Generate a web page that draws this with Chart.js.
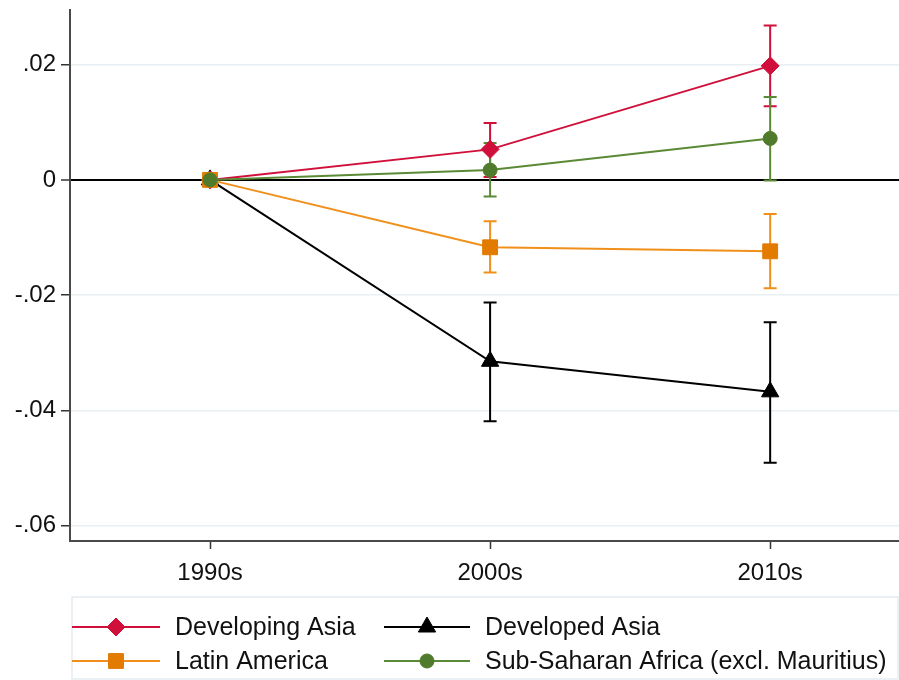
<!DOCTYPE html>
<html>
<head>
<meta charset="utf-8">
<script src="https://cdn.jsdelivr.net/npm/chart.js@4/dist/chart.umd.min.js"></script>
<style>
  html, body { margin: 0; padding: 0; background: #ffffff; }
  #wrap { width: 899px; height: 680px; }
</style>
</head>
<body>
<div id="wrap"><canvas id="c" width="899" height="680"></canvas></div>
<script>
// ---- data ----
const periods = ['1990s', '2000s', '2010s'];
const yTicks = [-0.06, -0.04, -0.02, 0, 0.02];

const developingAsia   = [0, 0.0053, 0.0198];
const developingAsiaLo = [null, 0.0005, 0.0128];
const developingAsiaHi = [null, 0.0099, 0.0268];

const developedAsia   = [0, -0.0315, -0.0368];
const developedAsiaLo = [null, -0.0419, -0.0491];
const developedAsiaHi = [null, -0.0213, -0.0247];

const latinAmerica   = [0, -0.0117, -0.0124];
const latinAmericaLo = [null, -0.0161, -0.0188];
const latinAmericaHi = [null, -0.0072, -0.0059];

const subSaharan   = [0, 0.0017, 0.0072];
const subSaharanLo = [null, -0.0029, -0.0001];
const subSaharanHi = [null, 0.0064, 0.0144];

const FONT = "'Liberation Sans', Arial, sans-serif";

function pts(arr) { return arr.map((v, i) => ({ x: i, y: v })); }

function mkSet(label, vals, lo, hi, color, markColor, style, radius, order) {
  return {
    label: label,
    data: pts(vals),
    lo: lo, hi: hi,
    borderColor: color,
    backgroundColor: markColor,
    borderWidth: 2,
    pointStyle: style,
    pointRadius: radius,
    pointBackgroundColor: markColor,
    pointBorderColor: markColor,
    pointBorderWidth: 1,
    tension: 0,
    order: order,
    errColor: color,
    clip: false
  };
}

const datasets = [
  mkSet('Developing Asia', developingAsia, developingAsiaLo, developingAsiaHi, '#d0103a', '#d0103a', 'rectRot', 9, 2),
  mkSet('Developed Asia', developedAsia, developedAsiaLo, developedAsiaHi, '#000000', '#000000', 'triangle', 10, 3),
  mkSet('Latin America', latinAmerica, latinAmericaLo, latinAmericaHi, '#f0901a', '#e27b00', 'rect', 10.5, 1),
  mkSet('Sub-Saharan Africa (excl. Mauritius)', subSaharan, subSaharanLo, subSaharanHi, '#5a8a35', '#507b2c', 'circle', 7, 0)
];

const errorBars = {
  id: 'errorBars',
  beforeDatasetsDraw(chart) {
    const ctx = chart.ctx;
    const xs = chart.scales.x, ys = chart.scales.y;
    ctx.save();
    const orderDraw = chart.data.datasets.map((d, i) => i).sort((a, b) => chart.data.datasets[b].order - chart.data.datasets[a].order);
    orderDraw.forEach(di => {
      const ds = chart.data.datasets[di];
      ctx.strokeStyle = ds.errColor;
      ctx.lineWidth = 2;
      ds.data.forEach((p, i) => {
        if (ds.lo[i] == null || ds.hi[i] == null) return;
        const px = xs.getPixelForValue(p.x);
        const y1 = ys.getPixelForValue(ds.lo[i]);
        const y2 = ys.getPixelForValue(ds.hi[i]);
        const cap = 6.5;
        ctx.beginPath();
        ctx.moveTo(px, y1); ctx.lineTo(px, y2);
        ctx.moveTo(px - cap, y1); ctx.lineTo(px + cap, y1);
        ctx.moveTo(px - cap, y2); ctx.lineTo(px + cap, y2);
        ctx.stroke();
      });
    });
    ctx.restore();
  }
};

const legendPlugin = {
  id: 'customLegend',
  afterDraw(chart) {
    const ctx = chart.ctx;
    ctx.save();
    ctx.strokeStyle = '#e3ecef';
    ctx.lineWidth = 1.5;
    ctx.strokeRect(72, 597, 826, 82);
    const layout = [
      { i: 0, x0: 72, x1: 160, mx: 116, tx: 175, y: 627 },
      { i: 1, x0: 384, x1: 470, mx: 427, tx: 485, y: 627 },
      { i: 2, x0: 72, x1: 160, mx: 116, tx: 175, y: 661 },
      { i: 3, x0: 384, x1: 470, mx: 427, tx: 485, y: 661 }
    ];
    layout.forEach(e => {
      const ds = chart.data.datasets[e.i];
      ctx.strokeStyle = ds.borderColor;
      ctx.lineWidth = 2;
      ctx.beginPath();
      ctx.moveTo(e.x0, e.y); ctx.lineTo(e.x1, e.y);
      ctx.stroke();
      ctx.fillStyle = ds.pointBackgroundColor;
      ctx.strokeStyle = ds.pointBorderColor;
      ctx.lineWidth = 1;
      Chart.helpers.drawPoint(ctx, { pointStyle: ds.pointStyle, radius: ds.pointRadius, rotation: 0, borderWidth: 1 }, e.mx, e.y);
      ctx.fillStyle = '#111111';
      ctx.font = '25px ' + FONT;
      ctx.textAlign = 'left';
      ctx.textBaseline = 'middle';
      ctx.fillText(ds.label, e.tx, e.y + 1);
    });
    ctx.restore();
  }
};

function zeroPad(scale) {
  scale.paddingTop = 0;
  scale.paddingBottom = 0;
  scale.paddingLeft = 0;
  scale.paddingRight = 0;
}

new Chart(document.getElementById('c'), {
  type: 'line',
  data: { datasets: datasets },
  plugins: [errorBars, legendPlugin],
  options: {
    responsive: false,
    animation: false,
    devicePixelRatio: 1,
    layout: { autoPadding: false, padding: { top: 10, right: 0, left: 0, bottom: 84 } },
    plugins: { legend: { display: false }, tooltip: { enabled: false } },
    scales: {
      x: {
        type: 'linear',
        min: -0.5,
        max: 2.46,
        afterBuildTicks(scale) { scale.ticks = periods.map((p, i) => ({ value: i })); },
        afterFit(scale) { scale.height = 55; zeroPad(scale); },
        ticks: {
          callback: (v) => periods[v] !== undefined ? periods[v] : '',
          font: { family: FONT, size: 24 },
          color: '#111111',
          padding: 10,
          maxRotation: 0,
          autoSkip: false
        },
        grid: { drawOnChartArea: false, drawTicks: true, tickLength: 8, tickColor: '#333333', tickWidth: 1.5 },
        border: { display: true, color: '#4a4a4a', width: 2 }
      },
      y: {
        type: 'linear',
        min: -0.0627,
        max: 0.0295,
        afterBuildTicks(scale) { scale.ticks = yTicks.map(v => ({ value: v })); },
        afterFit(scale) { scale.width = 70; zeroPad(scale); },
        ticks: {
          callback: (v) => {
            if (Math.abs(v) < 1e-9) return '0';
            const s = v.toFixed(2);
            return s.replace('0.', '.');
          },
          font: { family: FONT, size: 24 },
          color: '#111111',
          padding: 5,
          autoSkip: false
        },
        grid: {
          color: (c) => (c.tick && Math.abs(c.tick.value) < 1e-9) ? '#000000' : '#e8f0f3',
          lineWidth: (c) => (c.tick && Math.abs(c.tick.value) < 1e-9) ? 2 : 1.5,
          tickLength: 9,
          tickColor: '#333333',
          tickWidth: 1.5
        },
        border: { display: true, color: '#4a4a4a', width: 2 }
      }
    }
  }
});
</script>
</body>
</html>
